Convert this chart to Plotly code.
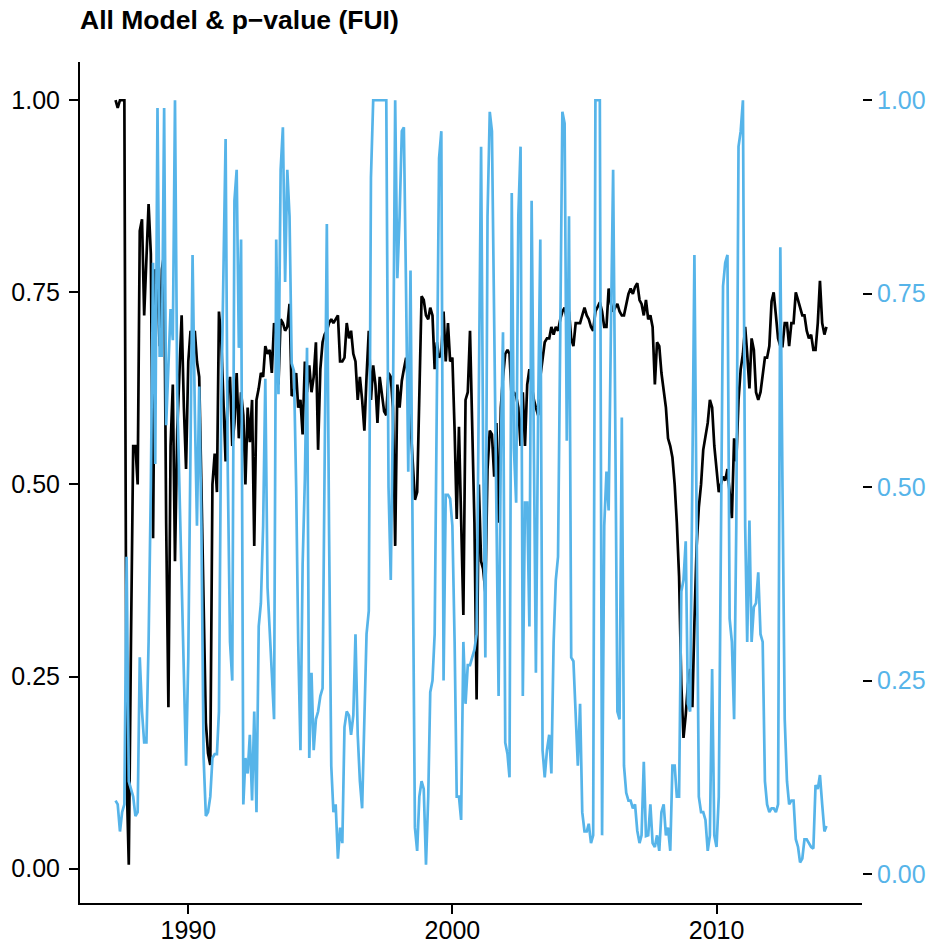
import pandas as pd
import plotly.graph_objects as go

# Monthly series, April 1987 - March 2014
model_fit = [
    1.00, 0.99, 1.00, 1.00, 1.00, 0.12, 0.005, 0.30, 0.55, 0.55,
    0.50, 0.83, 0.845, 0.72, 0.79, 0.865, 0.80, 0.43, 0.78, 0.76,
    0.68, 0.78, 0.80, 0.45, 0.21, 0.55, 0.63, 0.40, 0.57, 0.66,
    0.72, 0.60, 0.52, 0.66, 0.70, 0.68, 0.70, 0.66, 0.64, 0.50,
    0.34, 0.19, 0.15, 0.135, 0.50, 0.54, 0.49, 0.725, 0.69, 0.60,
    0.53, 0.62, 0.64, 0.55, 0.58, 0.645, 0.56, 0.62, 0.59, 0.50,
    0.60, 0.555, 0.61, 0.42, 0.61, 0.625, 0.645, 0.64, 0.68, 0.67,
    0.675, 0.645, 0.71, 0.70, 0.63, 0.715, 0.71, 0.70, 0.705, 0.735,
    0.615, 0.62, 0.645, 0.60, 0.61, 0.565, 0.66, 0.62, 0.655, 0.62,
    0.64, 0.685, 0.545, 0.65, 0.685, 0.695, 0.70, 0.71, 0.715, 0.71,
    0.715, 0.72, 0.66, 0.66, 0.665, 0.71, 0.69, 0.70, 0.67, 0.66,
    0.61, 0.64, 0.61, 0.57, 0.64, 0.70, 0.61, 0.655, 0.63, 0.58,
    0.64, 0.615, 0.595, 0.59, 0.645, 0.64, 0.60, 0.42, 0.63, 0.60,
    0.635, 0.65, 0.665, 0.63, 0.58, 0.53, 0.48, 0.49, 0.62, 0.745,
    0.74, 0.72, 0.715, 0.73, 0.72, 0.65, 0.685, 0.665, 0.67, 0.725,
    0.66, 0.71, 0.66, 0.665, 0.57, 0.455, 0.575, 0.45, 0.33, 0.61,
    0.62, 0.70, 0.56, 0.45, 0.22, 0.50, 0.40, 0.39, 0.36, 0.52,
    0.57, 0.565, 0.51, 0.58, 0.45, 0.60, 0.64, 0.67, 0.675, 0.67,
    0.61, 0.62, 0.615, 0.60, 0.55, 0.62, 0.55, 0.63, 0.65, 0.63,
    0.61, 0.60, 0.59, 0.64, 0.665, 0.685, 0.69, 0.69, 0.705, 0.695,
    0.705, 0.70, 0.715, 0.725, 0.73, 0.715, 0.725, 0.69, 0.68, 0.71,
    0.71, 0.71, 0.72, 0.73, 0.72, 0.715, 0.705, 0.70, 0.725, 0.73,
    0.737, 0.725, 0.705, 0.705, 0.755, 0.735, 0.725, 0.73, 0.735, 0.725,
    0.72, 0.72, 0.735, 0.748, 0.755, 0.748, 0.757, 0.762, 0.74, 0.735,
    0.72, 0.74, 0.715, 0.72, 0.705, 0.63, 0.685, 0.68, 0.645, 0.625,
    0.60, 0.56, 0.55, 0.535, 0.50, 0.45, 0.38, 0.24, 0.17, 0.20,
    0.24, 0.26, 0.21, 0.32, 0.42, 0.47, 0.50, 0.545, 0.56, 0.58,
    0.61, 0.60, 0.55, 0.52, 0.49, 0.50, 0.51, 0.505, 0.52, 0.49,
    0.456, 0.56, 0.53, 0.61, 0.65, 0.67, 0.705, 0.67, 0.625, 0.69,
    0.675, 0.62, 0.61, 0.62, 0.645, 0.665, 0.665, 0.68, 0.738, 0.75,
    0.72, 0.69, 0.68, 0.68, 0.71, 0.71, 0.68, 0.71, 0.71, 0.75,
    0.74, 0.73, 0.72, 0.72, 0.70, 0.69, 0.695, 0.675, 0.675, 0.71,
    0.765, 0.71, 0.695, 0.705,
]

p_value = [
    0.095, 0.09, 0.055, 0.08, 0.09, 0.41, 0.12, 0.11, 0.10, 0.075,
    0.08, 0.28, 0.21, 0.17, 0.17, 0.30, 0.50, 0.79, 0.53, 0.99,
    0.67, 0.67, 0.99, 0.58, 0.67, 0.73, 0.69, 1.00, 0.62, 0.50,
    0.40, 0.25, 0.14, 0.28, 0.60, 0.80, 0.60, 0.45, 0.63, 0.45,
    0.15, 0.075, 0.08, 0.10, 0.15, 0.155, 0.155, 0.21, 0.60, 0.80,
    0.95, 0.52, 0.30, 0.25, 0.87, 0.91, 0.68, 0.82, 0.09, 0.15,
    0.13, 0.18, 0.095, 0.21, 0.08, 0.32, 0.35, 0.45, 0.64, 0.37,
    0.32, 0.26, 0.20, 0.82, 0.62, 0.91, 0.965, 0.765, 0.91, 0.85,
    0.66, 0.65, 0.50, 0.30, 0.16, 0.40, 0.51, 0.68, 0.15, 0.26,
    0.16, 0.20, 0.21, 0.23, 0.24, 0.55, 0.84, 0.45, 0.14, 0.08,
    0.09, 0.02, 0.06, 0.04, 0.19, 0.21, 0.205, 0.18, 0.205, 0.31,
    0.18, 0.12, 0.085, 0.20, 0.31, 0.34, 0.90, 1.0, 1.0, 1.0,
    1.0, 1.0, 1.0, 1.0, 0.50, 0.38, 0.60, 1.0, 0.77, 0.85,
    0.96, 0.965, 0.75, 0.52, 0.78, 0.40, 0.06, 0.03, 0.10, 0.12,
    0.11, 0.012, 0.10, 0.235, 0.25, 0.31, 0.65, 0.925, 0.96, 0.25,
    0.49, 0.49, 0.485, 0.45, 0.30, 0.10, 0.10, 0.07, 0.30, 0.22,
    0.27, 0.27, 0.28, 0.29, 0.31, 0.60, 0.94, 0.55, 0.28, 0.85,
    0.985, 0.96, 0.70, 0.40, 0.23, 0.55, 0.70, 0.17, 0.155, 0.125,
    0.88, 0.55, 0.48, 0.85, 0.94, 0.23, 0.48, 0.48, 0.32, 0.87,
    0.50, 0.26, 0.60, 0.82, 0.16, 0.125, 0.16, 0.18, 0.13, 0.30,
    0.38, 0.41, 0.70, 0.985, 0.97, 0.56, 0.85, 0.28, 0.275, 0.20,
    0.14, 0.22, 0.08, 0.055, 0.055, 0.065, 0.04, 0.05, 1.0, 1.0,
    1.0, 0.05, 0.45, 0.52, 0.47, 0.70, 0.91, 0.60, 0.21, 0.20,
    0.59, 0.14, 0.105, 0.095, 0.095, 0.085, 0.09, 0.056, 0.04, 0.05,
    0.145, 0.049, 0.05, 0.09, 0.04, 0.035, 0.05, 0.03, 0.08, 0.09,
    0.05, 0.06, 0.03, 0.14, 0.14, 0.10, 0.10, 0.365, 0.38, 0.43,
    0.22, 0.21, 0.55, 0.80, 0.45, 0.10, 0.08, 0.08, 0.07, 0.03,
    0.05, 0.265, 0.05, 0.035, 0.10, 0.40, 0.76, 0.79, 0.80, 0.33,
    0.30, 0.20, 0.45, 0.94, 0.96, 1.0, 0.45, 0.30, 0.457, 0.30,
    0.345, 0.35, 0.39, 0.31, 0.30, 0.12, 0.09, 0.08, 0.085, 0.085,
    0.08, 0.09, 0.81, 0.50, 0.20, 0.12, 0.09, 0.095, 0.095, 0.045,
    0.035, 0.015, 0.02, 0.045, 0.045, 0.04, 0.035, 0.033, 0.115, 0.11,
    0.128, 0.09, 0.055, 0.062,
]

assert len(model_fit) == len(p_value)

dates = pd.date_range("1987-04-01", periods=len(model_fit), freq="MS")

year_ticks = ["1990-01-01", "2000-01-01", "2010-01-01"]
year_labels = ["1990", "2000", "2010"]
y_ticks = [0.0, 0.25, 0.5, 0.75, 1.0]
y_labels = ["0.00", "0.25", "0.50", "0.75", "1.00"]

BLUE = "#56B4E9"
FONT = "Liberation Sans, Arial, Helvetica, sans-serif"


def padded(vals, frac=0.05):
    lo, hi = min(vals), max(vals)
    pad = (hi - lo) * frac
    return [lo - pad, hi + pad]


span = dates[-1] - dates[0]
x_range = [(dates[0] - span * 0.05).strftime("%Y-%m-%d %H:%M"),
           (dates[-1] + span * 0.05).strftime("%Y-%m-%d %H:%M")]

fig = go.Figure()
fig.add_trace(go.Scatter(
    x=dates, y=model_fit, mode="lines", yaxis="y",
    line=dict(color="#000000", width=2.7), showlegend=False,
))
fig.add_trace(go.Scatter(
    x=dates, y=p_value, mode="lines", yaxis="y2",
    line=dict(color=BLUE, width=2.7), showlegend=False,
))

axis_common = dict(
    showgrid=False, zeroline=False, ticks="outside", ticklen=9,
    tickwidth=2, tickcolor="#000000", automargin=False,
)

fig.update_layout(
    width=930, height=947,
    margin=dict(l=80, r=68, t=62, b=44, autoexpand=False),
    paper_bgcolor="white", plot_bgcolor="white",
    font=dict(family=FONT, color="#000000"),
    title=dict(
        text="All Model &amp; p\u2212value (FUI)",
        font=dict(size=26.5, color="#000000", family=FONT, weight="bold"),
        x=80 / 930, xref="container", xanchor="left",
        y=1 - 19.5 / 947, yref="container", yanchor="middle",
        automargin=False,
    ),
    xaxis=dict(
        type="date", range=x_range,
        tickvals=year_ticks, ticktext=year_labels,
        showline=True, linecolor="#000000", linewidth=2,
        tickfont=dict(size=25, color="#000000"),
        ticklabelstandoff=-5,
        **axis_common,
    ),
    yaxis=dict(
        range=padded(model_fit), tickvals=y_ticks, ticktext=y_labels,
        showline=True, linecolor="#000000", linewidth=2,
        tickfont=dict(size=25, color="#000000"),
        ticklabelstandoff=4,
        **axis_common,
    ),
    yaxis2=dict(
        range=padded(p_value), tickvals=y_ticks, ticktext=y_labels,
        overlaying="y", side="right", showline=False,
        tickfont=dict(size=25, color=BLUE),
        ticklabelstandoff=0,
        **axis_common,
    ),
)

fig.write_html("out.html")
